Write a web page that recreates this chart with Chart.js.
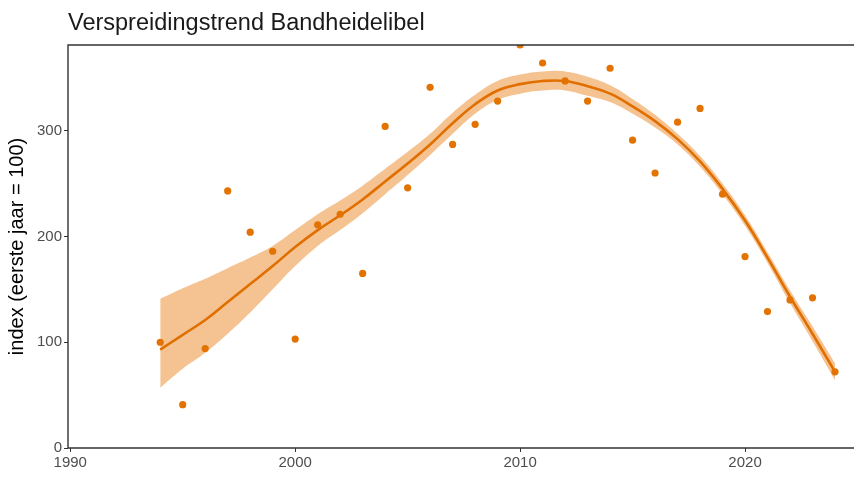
<!DOCTYPE html>
<html>
<head>
<meta charset="utf-8">
<script src="https://cdn.jsdelivr.net/npm/chart.js@4/dist/chart.umd.min.js"></script>
<style>
  html, body { margin: 0; padding: 0; background: #fff; }
  canvas { display: block; }
</style>
</head>
<body>
<canvas id="trend" width="857" height="477"></canvas>
<script>
const title = 'Verspreidingstrend Bandheidelibel';
const yLabel = 'index (eerste jaar = 100)';

const years = [1994, 1995, 1996, 1997, 1998, 1999, 2000, 2001, 2002, 2003, 2004, 2005, 2006, 2007, 2008, 2009,
  2010, 2011, 2012, 2013, 2014, 2015, 2016, 2017, 2018, 2019, 2020, 2021, 2022, 2023, 2024];

// yearly index (observed)
const observed = [100, 41, 94, 243, 204, 186, 103, 211, 221, 165, 304, 246, 341, 287, 306, 328,
  381, 364, 347, 328, 359, 291, 260, 308, 321, 240, 181, 129, 140, 142, 72];

// smoothed trend with confidence band
const trend = [93, 107, 121, 138, 155, 172, 190, 206, 220, 235, 252, 269, 287, 307, 325, 338,
  344, 347, 347, 342, 335, 323, 309, 292, 271, 245, 215, 180, 143, 108, 72];
const bandUpper = [141, 151, 160, 170, 180, 191, 206, 221, 234, 248, 264, 280, 297, 317, 334, 347,
  353, 356, 356, 351, 343, 330, 315, 297, 276, 250, 220, 185, 149, 115, 80];
const bandLower = [57, 75, 90, 108, 128, 150, 172, 191, 206, 222, 240, 258, 277, 297, 316, 329,
  335, 338, 338, 333, 327, 316, 303, 287, 266, 240, 210, 175, 137, 101, 64];

const xTicks = [1990, 2000, 2010, 2020];
const yTicks = [0, 100, 200, 300];

const pts = arr => years.map((y, i) => ({ x: y, y: arr[i] }));

const font = 'Liberation Sans, Arial, sans-serif';

const panelFrame = {
  id: 'panelFrame',
  afterDatasetsDraw(chart) {
    const { ctx, chartArea: a } = chart;
    ctx.save();
    ctx.strokeStyle = '#333333';
    ctx.lineWidth = 1.4;
    ctx.beginPath();
    ctx.moveTo(a.right + 1, a.top);
    ctx.lineTo(a.left, a.top);
    ctx.lineTo(a.left, a.bottom);
    ctx.lineTo(a.right + 1, a.bottom);
    ctx.stroke();
    ctx.fillStyle = '#1a1a1a';
    ctx.font = '23.5px ' + font;
    ctx.textBaseline = 'alphabetic';
    ctx.fillText(title, a.left, 30);
    ctx.restore();
  }
};

new Chart(document.getElementById('trend'), {
  type: 'scatter',
  data: {
    datasets: [
      { type: 'line', order: 3, data: pts(bandLower), borderWidth: 0, pointRadius: 0, fill: false, tension: 0.4 },
      { type: 'line', order: 2, data: pts(bandUpper), borderWidth: 0, pointRadius: 0, fill: '-1',
        backgroundColor: '#F5C391', tension: 0.4 },
      { type: 'line', order: 1, data: pts(trend), borderColor: '#E06F00', borderWidth: 2.6, pointRadius: 0,
        fill: false, tension: 0.4 },
      { order: 0, data: pts(observed), pointRadius: 3.6, pointBackgroundColor: '#E37300',
        pointBorderWidth: 0, clip: 0 },
    ],
  },
  options: {
    responsive: false,
    animation: false,
    layout: { padding: { top: 45, right: 0, left: 0, bottom: 0 } },
    plugins: { legend: { display: false }, tooltip: { enabled: false } },
    scales: {
      x: {
        type: 'linear',
        min: 1989.9,
        max: 2024.8,
        afterBuildTicks: s => { s.ticks = xTicks.map(v => ({ value: v })); },
        afterFit: s => { s.height = 29; },
        border: { display: false },
        grid: { drawOnChartArea: false, tickLength: 4, color: '#333333' },
        ticks: { color: '#4D4D4D', font: { family: font, size: 15 }, padding: 2, maxRotation: 0,
          callback: v => String(v) },
      },
      y: {
        min: 0,
        max: 381,
        afterBuildTicks: s => { s.ticks = yTicks.map(v => ({ value: v })); },
        afterFit: s => { s.width = 68; },
        border: { display: false },
        grid: { drawOnChartArea: false, tickLength: 4, color: '#333333' },
        ticks: { color: '#4D4D4D', font: { family: font, size: 15 }, padding: 2 },
        title: { display: true, text: yLabel, color: '#000', font: { family: font, size: 20 },
          padding: { top: 5, bottom: 0 } },
      },
    },
  },
  plugins: [panelFrame],
});
</script>
</body>
</html>
